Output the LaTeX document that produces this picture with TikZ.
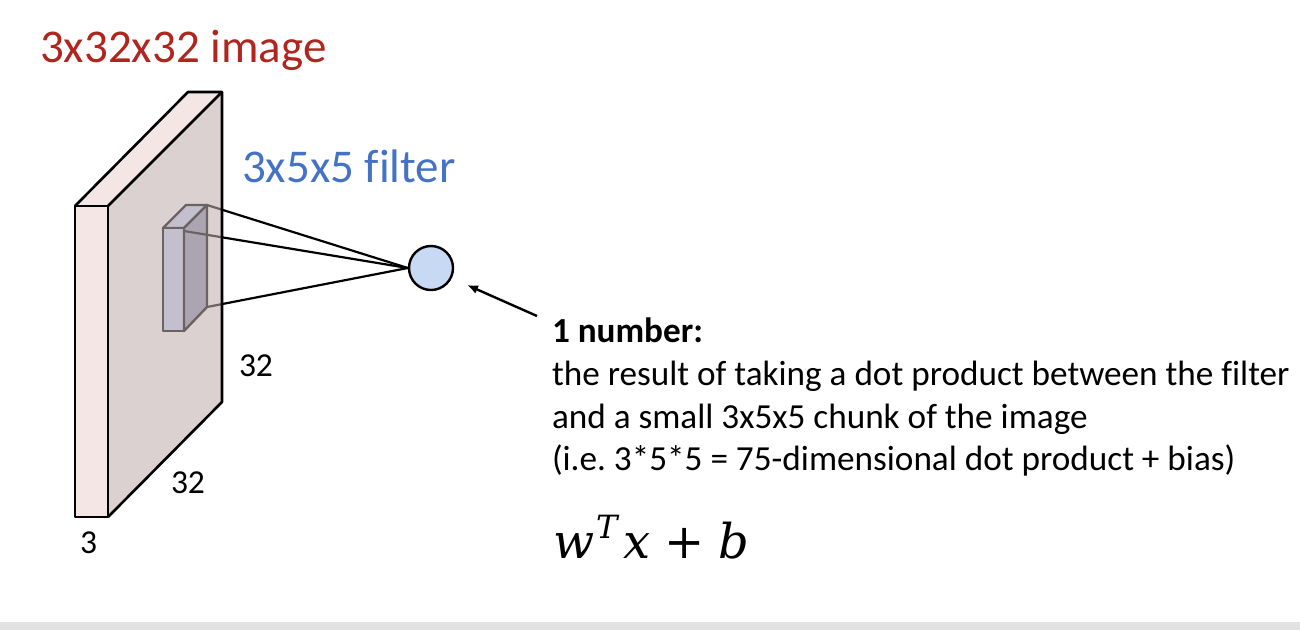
\documentclass[tikz,border=0pt]{standalone}
\usepackage{fontspec}
\usetikzlibrary{arrows.meta}
\setmainfont{Carlito}[Ligatures=NoCommon]
\newfontfamily\mathserif{DejaVu Serif}
\definecolor{titlered}{RGB}{176,38,30}
\definecolor{filterblue}{RGB}{68,114,196}
\definecolor{edgepink}{RGB}{245,230,230}
\definecolor{facetint}{RGB}{193,174,174}
\definecolor{filterfront}{RGB}{202,214,250}
\definecolor{filterside}{RGB}{144,151,181}
\definecolor{circleblue}{RGB}{200,217,243}
\definecolor{stripgrey}{RGB}{226,226,226}
\tikzset{
  boxedge/.style={draw=black,line width=2.6pt,line join=round},
  linkline/.style={draw=black,line width=2.2pt},
  filterface/.style={draw=black,line width=2.4pt,line join=round},
  lbl/.style={anchor=base west,inner sep=0pt,outer sep=0pt,text=black},
}
\begin{document}
\frenchspacing
\begin{tikzpicture}[x=1pt,y=-1pt]
\useasboundingbox (0,0) rectangle (1300,630);
\fill[stripgrey] (0,622) rectangle (1300,630);
% coordinates
\coordinate (ftl) at (75,206);
\coordinate (ftr) at (108,206);
\coordinate (fbl) at (75,517);
\coordinate (fbr) at (108,517);
\coordinate (btl) at (188,92);
\coordinate (btr) at (222,92);
\coordinate (bbr) at (222,402);
\coordinate (ka) at (163,228);
\coordinate (kb) at (184,228);
\coordinate (kc) at (207,205);
\coordinate (kd) at (186,205);
\coordinate (ke) at (184,331);
\coordinate (kf) at (163,331);
\coordinate (kg) at (207,307);
\coordinate (kh) at (184,231);
% filter, seen through the tinted face
\path[filterface,fill=filterfront] (ka) -- (kb) -- (kc) -- (kd) -- cycle;
\path[filterface,fill=filterfront] (ka) -- (kb) -- (ke) -- (kf) -- cycle;
\path[filterface,fill=filterside] (kb) -- (kc) -- (kg) -- (ke) -- cycle;
\node[circle,draw=black,line width=2.4pt,fill=circleblue,minimum size=44pt,inner sep=0pt] (neuron) at (431,268) {};
\draw[linkline] (kc) -- (neuron.west);
\draw[linkline] (kh) -- (neuron.west);
\draw[linkline] (kg) -- (neuron.west);
% tinted face over the filter
\fill[facetint,fill opacity=.57] (ftr) -- (btr) -- (bbr) -- (fbr) -- cycle;
\fill[edgepink] (ftl) -- (ftr) -- (fbr) -- (fbl) -- cycle;
\fill[edgepink] (ftl) -- (ftr) -- (btr) -- (btl) -- cycle;
\draw[boxedge] (ftl) -- (ftr) -- (fbr) -- (fbl) -- cycle;
\draw[boxedge] (ftl) -- (btl) -- (btr) -- (ftr);
\draw[boxedge] (btr) -- (bbr) -- (fbr);
% annotation arrow
\coordinate (arrowtail) at (537,316);
\coordinate (arrowhead) at (467,285);
\draw[line width=2.4pt,-{Latex[length=11pt,width=9pt]}] (arrowtail) -- (arrowhead);
% labels
\node[lbl,text=titlered,font=\fontsize{47}{47}\selectfont] (title) at (40,62) {3x32x32 image};
\node[lbl,text=filterblue,font=\fontsize{47}{47}\selectfont] (filt) at (242,182) {3x5x5 filter};
\node[lbl,font=\fontsize{33.5}{33.5}\selectfont] (d1) at (239,376) {32};
\node[lbl,font=\fontsize{33.5}{33.5}\selectfont] (d2) at (171,493) {32};
\node[lbl,font=\fontsize{33.5}{33.5}\selectfont] (d3) at (80,553) {3};
\node[lbl,font=\fontsize{35.2}{35.2}\selectfont\bfseries] (t1) at (552,342) {1 number:};
\node[lbl,font=\fontsize{35.2}{35.2}\selectfont] (t2) at (552,385) {the result of taking a dot product between the filter};
\node[lbl,font=\fontsize{35.2}{35.2}\selectfont] (t3) at (552,428) {and a small 3x5x5 chunk of the image};
\node[lbl,font=\fontsize{35.2}{35.2}\selectfont] (t4) at (552,470) {(i.e. 3*5*5 = 75-dimensional dot product + bias)};
\node[lbl,font=\fontsize{48}{48}\selectfont\mathserif] (eq) at (553,558) {\textit{w}\kern2pt\raisebox{20pt}{\fontsize{32}{32}\selectfont\textit{T}}\kern4pt\textit{x}\kern14pt+\kern14pt\textit{b}};
\end{tikzpicture}
\end{document}
